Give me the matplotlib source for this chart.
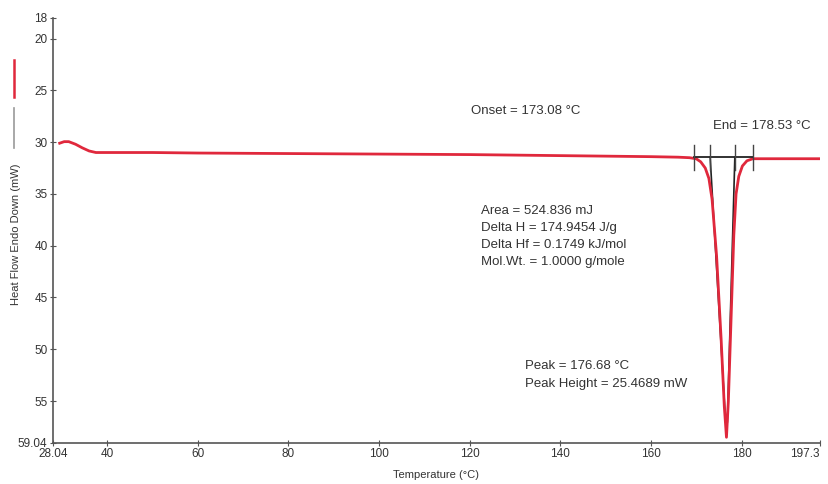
import numpy as np
import matplotlib.pyplot as plt
from matplotlib.lines import Line2D

plt.rcParams['font.family'] = ['Liberation Sans', 'DejaVu Sans']

# DSC trace (temperature degC, heat flow mW)
temp = [29.5, 30.5, 31.5, 33.0, 34.5, 36.0, 37.5, 40.0, 50.0, 60.0, 80.0,
        100.0, 120.0, 140.0, 160.0, 166.0, 168.5, 170.0, 171.0, 172.0,
        172.8, 173.5, 174.5, 175.5, 176.2, 176.68, 177.1, 177.7, 178.3,
        178.8, 179.4, 180.2, 181.2, 182.5, 185.0, 190.0, 197.3]
heat = [30.1, 29.95, 29.95, 30.2, 30.55, 30.85, 31.0, 31.0, 31.0, 31.05, 31.1,
        31.15, 31.2, 31.3, 31.4, 31.45, 31.5, 31.6, 31.9, 32.5,
        33.5, 35.5, 41.0, 49.0, 55.5, 58.5, 55.0, 47.0, 39.0,
        35.0, 33.3, 32.3, 31.8, 31.6, 31.6, 31.6, 31.6]

onset = 173.08
end = 178.53
peak = 176.68
peak_y = 58.5
base_x = [169.6, 182.6]
base_y = 31.45
tick_x = [169.6, onset, end, 182.6]

xticks = [28.04, 40, 60, 80, 100, 120, 140, 160, 180, 197.3]
xtick_labels = ['28.04', '40', '60', '80', '100', '120', '140', '160', '180', '197.3']
yticks = [18, 20, 25, 30, 35, 40, 45, 50, 55, 59.04]
ytick_labels = ['18', '20', '25', '30', '35', '40', '45', '50', '55', '59.04']

info_lines = ['Area = 524.836 mJ', 'Delta H = 174.9454 J/g',
              'Delta Hf = 0.1749 kJ/mol', 'Mol.Wt. = 1.0000 g/mole']
peak_lines = ['Peak = 176.68 \u00b0C', 'Peak Height = 25.4689 mW']

red = '#e0283c'
txt = '#333333'

fig = plt.figure(figsize=(8.29, 4.84), dpi=100)
ax = fig.add_axes([0.064, 0.085, 0.925, 0.878])

ax.plot(temp, heat, color=red, lw=2.0, zorder=3)

# baseline and tangent construction
ax.plot(base_x, [base_y, base_y], color='#222222', lw=1.3, zorder=4)
for tx in tick_x:
    ax.plot([tx, tx], [30.3, 32.7], color='#444444', lw=1.0, zorder=4)
ax.plot([onset, peak - 0.2], [base_y, peak_y - 1.5], color='#222222', lw=1.2, zorder=2)
ax.plot([end, peak + 0.2], [base_y, peak_y - 1.5], color='#222222', lw=1.2, zorder=2)

ax.set_xlim(28.04, 197.3)
ax.set_ylim(59.04, 18)
ax.set_xticks(xticks)
ax.set_xticklabels(xtick_labels)
ax.set_yticks(yticks)
ax.set_yticklabels(ytick_labels)
ax.get_xticklabels()[-1].set_ha('right')

for s in ['top', 'right']:
    ax.spines[s].set_visible(False)
for s in ['left', 'bottom']:
    ax.spines[s].set_color('#555555')
    ax.spines[s].set_linewidth(1.2)
ax.tick_params(direction='inout', length=4, width=0.8, colors='#555555',
               labelsize=8.5, labelcolor=txt, pad=2)

ax.set_xlabel('Temperature (\u00b0C)', fontsize=8, color=txt)
ax.set_ylabel('Heat Flow Endo Down (mW)', fontsize=8, color=txt)
ax.xaxis.set_label_coords(0.5, -0.063)
ax.yaxis.set_label_coords(-0.042, 0.49)

fs = 9.5
ax.text(120.2, 27.0, 'Onset = 173.08 \u00b0C', fontsize=fs, color=txt, va='center')
ax.text(173.6, 28.45, 'End = 178.53 \u00b0C', fontsize=fs, color=txt, va='center')
for i, line in enumerate(info_lines):
    ax.text(122.4, 36.6 + i * 1.65, line, fontsize=fs, color=txt, va='center')
for i, line in enumerate(peak_lines):
    ax.text(132.3, 51.6 + i * 1.75, line, fontsize=fs, color=txt, va='center')

# little legend swatches on the left edge
fig.add_artist(Line2D([0.017, 0.017], [1 - 60 / 484, 1 - 97 / 484], color=red, lw=1.8))
fig.add_artist(Line2D([0.017, 0.017], [1 - 108 / 484, 1 - 148 / 484], color='#999999', lw=1.2))

fig.savefig('out.png', dpi=100)
